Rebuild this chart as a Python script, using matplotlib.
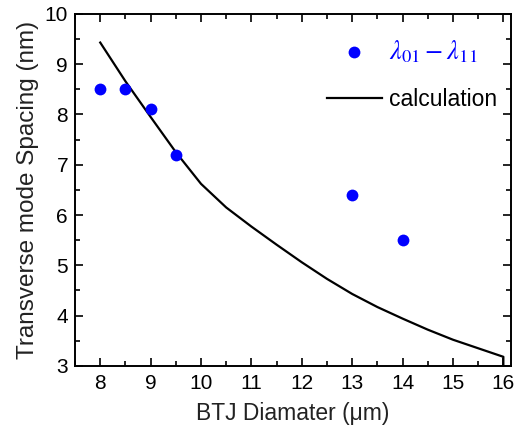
import matplotlib
matplotlib.use("Agg")
import matplotlib.pyplot as plt
from matplotlib.ticker import MultipleLocator

plt.rcParams['font.family'] = ['Liberation Sans', 'DejaVu Sans']
plt.rcParams['mathtext.fontset'] = 'stix'

meas_x = [8, 8.5, 9, 9.5, 13, 14]
meas_y = [8.5, 8.5, 8.1, 7.2, 6.4, 5.5]

calc_x = [8, 8.5, 9, 9.5, 10, 10.5, 11, 11.5, 12, 12.5, 13, 13.5, 14, 14.5, 15, 15.5, 16, 16]
calc_y = [9.43, 8.66, 7.95, 7.25, 6.62, 6.15, 5.77, 5.41, 5.06, 4.73, 4.43, 4.17, 3.94, 3.72, 3.52, 3.35, 3.18, 3.0]

fig = plt.figure(figsize=(5.14, 4.34), dpi=100)
ax = fig.add_axes([0.146, 0.157, 0.848, 0.811])

ax.plot(calc_x, calc_y, color='black', lw=1.6, label='calculation', zorder=2)
ax.plot(meas_x, meas_y, 'o', color='#0000ff', ms=8.5, mec='none',
        label=r'$\lambda_{01}-\lambda_{11}$', zorder=3)

ax.set_xlim(7.5, 16.15)
ax.set_ylim(3, 10)
ax.xaxis.set_major_locator(MultipleLocator(1))
ax.xaxis.set_minor_locator(MultipleLocator(0.5))
ax.yaxis.set_major_locator(MultipleLocator(1))
ax.yaxis.set_minor_locator(MultipleLocator(0.5))
ax.tick_params(which='both', direction='in', top=True, right=True, width=1.2, labelsize=15, colors='black')
ax.tick_params(axis='x', which='major', length=6, pad=6)
ax.tick_params(axis='y', which='major', length=6, pad=5)
ax.tick_params(which='minor', length=3.5)
for s in ax.spines.values():
    s.set_linewidth(1.4)

ax.set_xlabel('BTJ Diamater (μm)', fontsize=16.5, color='#222222', labelpad=6)
ax.set_ylabel('Transverse mode Spacing (nm)', fontsize=17.5, color='#222222', labelpad=4)

handles, labels = ax.get_legend_handles_labels()
leg = ax.legend([handles[1], handles[0]], [labels[1], labels[0]],
                loc='upper right', bbox_to_anchor=(0.9885, 0.955), frameon=False,
                fontsize=16.5, handlelength=2.4, handletextpad=0.3, labelspacing=1.0,
                borderaxespad=0.0)
txts = leg.get_texts()
txts[0].set_color('#0000ff')
txts[0].set_fontsize(19)

fig.savefig('out.png', dpi=100)
